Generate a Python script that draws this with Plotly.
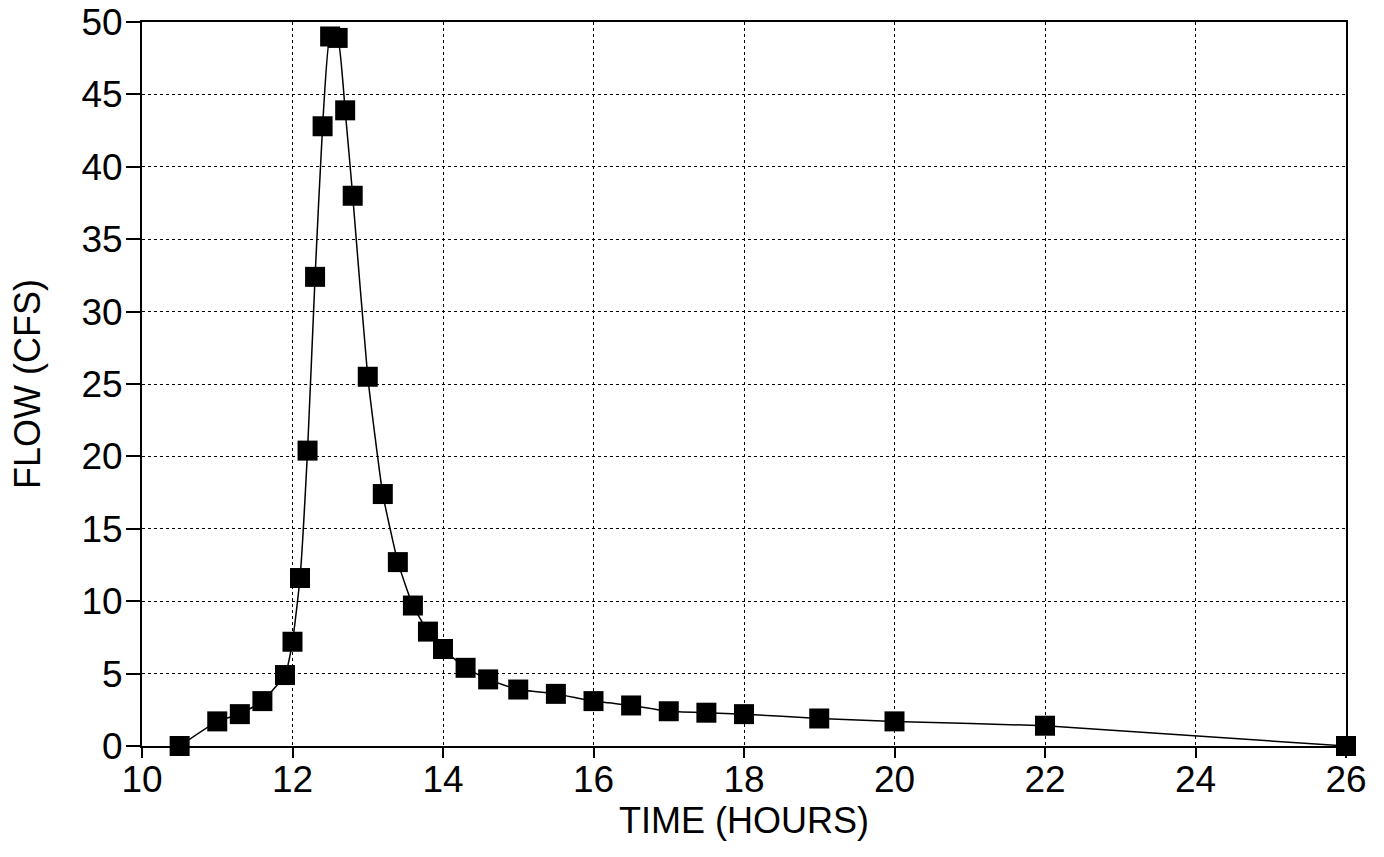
import plotly.graph_objects as go

time_hours = [10.5, 11.0, 11.3, 11.6, 11.9, 12.0, 12.1, 12.2, 12.3, 12.4, 12.5, 12.6,
              12.7, 12.8, 13.0, 13.2, 13.4, 13.6, 13.8, 14.0, 14.3, 14.6, 15.0, 15.5,
              16.0, 16.5, 17.0, 17.5, 18.0, 19.0, 20.0, 22.0, 26.0]
flow_cfs = [0.0, 1.7, 2.2, 3.1, 4.9, 7.2, 11.6, 20.4, 32.4, 42.8, 49.0, 48.9,
            43.9, 38.0, 25.5, 17.4, 12.7, 9.7, 7.9, 6.7, 5.4, 4.6, 3.9, 3.6,
            3.1, 2.8, 2.4, 2.3, 2.2, 1.9, 1.7, 1.4, 0.0]

x_ticks = [10, 12, 14, 16, 18, 20, 22, 24, 26]
y_ticks = [0, 5, 10, 15, 20, 25, 30, 35, 40, 45, 50]

fig = go.Figure()
fig.add_trace(go.Scatter(
    x=time_hours, y=flow_cfs, mode="lines+markers",
    line=dict(color="black", width=1.5, shape="spline", smoothing=0.4),
    marker=dict(symbol="square", size=20, color="black"),
    cliponaxis=False, showlegend=False,
))

font_family = "Liberation Sans, Arial, sans-serif"
fig.update_layout(
    width=1384, height=857,
    margin=dict(l=142, r=38, t=22, b=111),
    paper_bgcolor="white", plot_bgcolor="white",
    font=dict(family=font_family, color="black"),
)
fig.update_xaxes(
    range=[10, 26], tickvals=x_ticks, ticktext=[str(v) for v in x_ticks],
    showgrid=True, gridcolor="black", griddash="dot", gridwidth=1,
    showline=True, linecolor="black", linewidth=2, mirror=True,
    ticks="outside", ticklen=10, tickcolor="black", tickwidth=2,
    tickfont=dict(size=37, color="black"),
    ticklabelstandoff=-10, ticklabeloverflow="allow",
    automargin="bottom",
    title=dict(text="TIME (HOURS)", font=dict(size=36, color="black"), standoff=0),
    zeroline=False,
)
fig.update_yaxes(
    range=[0, 50], tickvals=y_ticks, ticktext=[str(v) for v in y_ticks],
    showgrid=True, gridcolor="black", griddash="dot", gridwidth=1,
    showline=True, linecolor="black", linewidth=2, mirror=True,
    ticks="outside", ticklen=14, tickcolor="black", tickwidth=2,
    tickfont=dict(size=37, color="black"),
    ticklabelstandoff=-4, ticklabeloverflow="allow",
    automargin="left",
    title=dict(text="FLOW (CFS)", font=dict(size=36, color="black"), standoff=30),
    zeroline=False,
)

fig.write_html(
    "out.html",
    config={"displayModeBar": False},
    post_script="document.body.style.margin='0';document.body.style.overflow='hidden';",
)
